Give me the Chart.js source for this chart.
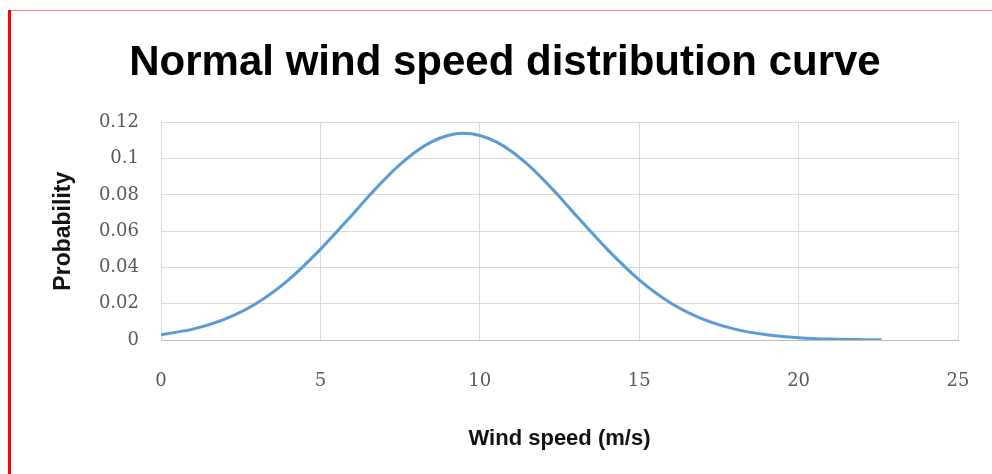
<!DOCTYPE html>
<html>
<head>
<meta charset="utf-8">
<title>Normal wind speed distribution curve</title>
<script src="https://cdn.jsdelivr.net/npm/chart.js@4.4.0/dist/chart.umd.min.js"></script>
<style>
    html, body { margin: 0; padding: 0; background: #fff; }
    #frame {
        position: relative;
        width: 992px;
        height: 474px;
        overflow: hidden;
    }
    #frame canvas { position: absolute; left: 0; top: 0; }
    .edge-left {
        position: absolute; left: 8px; top: 10px; width: 3px; height: 464px;
        background: #ff0000;
    }
    .edge-top {
        position: absolute; left: 8px; top: 10px; width: 984px; height: 1px;
        background: #f07c7c;
    }
</style>
</head>
<body>
<div id="frame">
    <canvas id="windChart" width="992" height="474"></canvas>
    <div class="edge-top"></div>
    <div class="edge-left"></div>
</div>
<script>
const CHART_TITLE = "Normal wind speed distribution curve";
const X_TITLE = "Wind speed (m/s)";
const Y_TITLE = "Probability";

// values
const windSpeeds = [0, 1, 2, 3, 4, 5, 6, 6.5, 7, 7.5, 8, 8.5, 9, 9.5, 10, 10.5, 11, 11.5, 12, 12.5, 13,
    14, 15, 16, 17, 18, 19, 20, 21, 22, 22.6];
const probabilities = [0.0029, 0.0060, 0.0115, 0.0203, 0.0332, 0.0500, 0.0691, 0.0790, 0.0883, 0.0968, 0.1040,
    0.1094, 0.1128, 0.1140, 0.1128, 0.1094, 0.1040, 0.0968, 0.0883, 0.0790, 0.0691,
    0.0500, 0.0332, 0.0203, 0.0115, 0.0060, 0.0029, 0.0013, 0.0005, 0.0002, 0.0001];

const xTickLabels = ["0", "5", "10", "15", "20", "25"];
const yTickLabels = ["0", "0.02", "0.04", "0.06", "0.08", "0.1", "0.12"];

const sansFamily = "'Liberation Sans', Arial, sans-serif";
const tickFont = { family: "'DejaVu Serif', 'Liberation Serif', serif", size: 18 };
const gridColor = "#d9d9d9";

window.addEventListener("load", () => {
    renderChart();
});

function renderChart() {
    const ctx = document.getElementById("windChart");
    const points = windSpeeds.map((x, i) => ({ x, y: probabilities[i] }));

    new Chart(ctx, {
        type: "line",
        data: {
            datasets: [{
                label: Y_TITLE,
                data: points,
                borderColor: "#5b9bd5",
                borderWidth: 3,
                pointRadius: 0,
                fill: false,
                cubicInterpolationMode: "monotone"
            }]
        },
        options: {
            responsive: false,
            animation: false,
            layout: { padding: { left: 52, right: 34, top: 0, bottom: 0 } },
            plugins: {
                legend: { display: false },
                tooltip: { enabled: false },
                title: {
                    display: true,
                    text: CHART_TITLE,
                    color: "#000",
                    font: { family: sansFamily, size: 42, weight: "bold", lineHeight: 1.2 },
                    padding: { top: 38, bottom: 34 }
                }
            },
            scales: {
                x: {
                    type: "linear",
                    min: 0,
                    max: 25,
                    afterFit: scale => {
                        scale.height = 134;
                        scale.paddingLeft = 0;
                        scale.paddingRight = 0;
                    },
                    afterBuildTicks: scale => {
                        scale.ticks = xTickLabels.map(v => ({ value: Number(v) }));
                    },
                    ticks: {
                        color: "#595959",
                        font: tickFont,
                        padding: 31,
                        maxRotation: 0,
                        callback: (value, index) => xTickLabels[index]
                    },
                    grid: { color: gridColor, drawTicks: false },
                    border: { color: "#bfbfbf" },
                    title: {
                        display: true,
                        text: X_TITLE,
                        color: "#111",
                        font: { family: sansFamily, size: 22, weight: "bold", lineHeight: 1.2 },
                        padding: { top: 0, bottom: 22 }
                    }
                },
                y: {
                    min: 0,
                    max: 0.12,
                    afterFit: scale => { scale.width = 109; },
                    afterBuildTicks: scale => {
                        scale.ticks = yTickLabels.map(v => ({ value: Number(v) }));
                    },
                    ticks: {
                        color: "#595959",
                        font: tickFont,
                        padding: 22,
                        callback: (value, index) => yTickLabels[index]
                    },
                    grid: { color: gridColor, drawTicks: false },
                    border: { color: gridColor },
                    title: {
                        display: true,
                        text: Y_TITLE,
                        color: "#111",
                        font: { family: sansFamily, size: 23, weight: "bold", lineHeight: 1.0 },
                        padding: { top: 0, bottom: 0 }
                    }
                }
            }
        }
    });
}
</script>
</body>
</html>
